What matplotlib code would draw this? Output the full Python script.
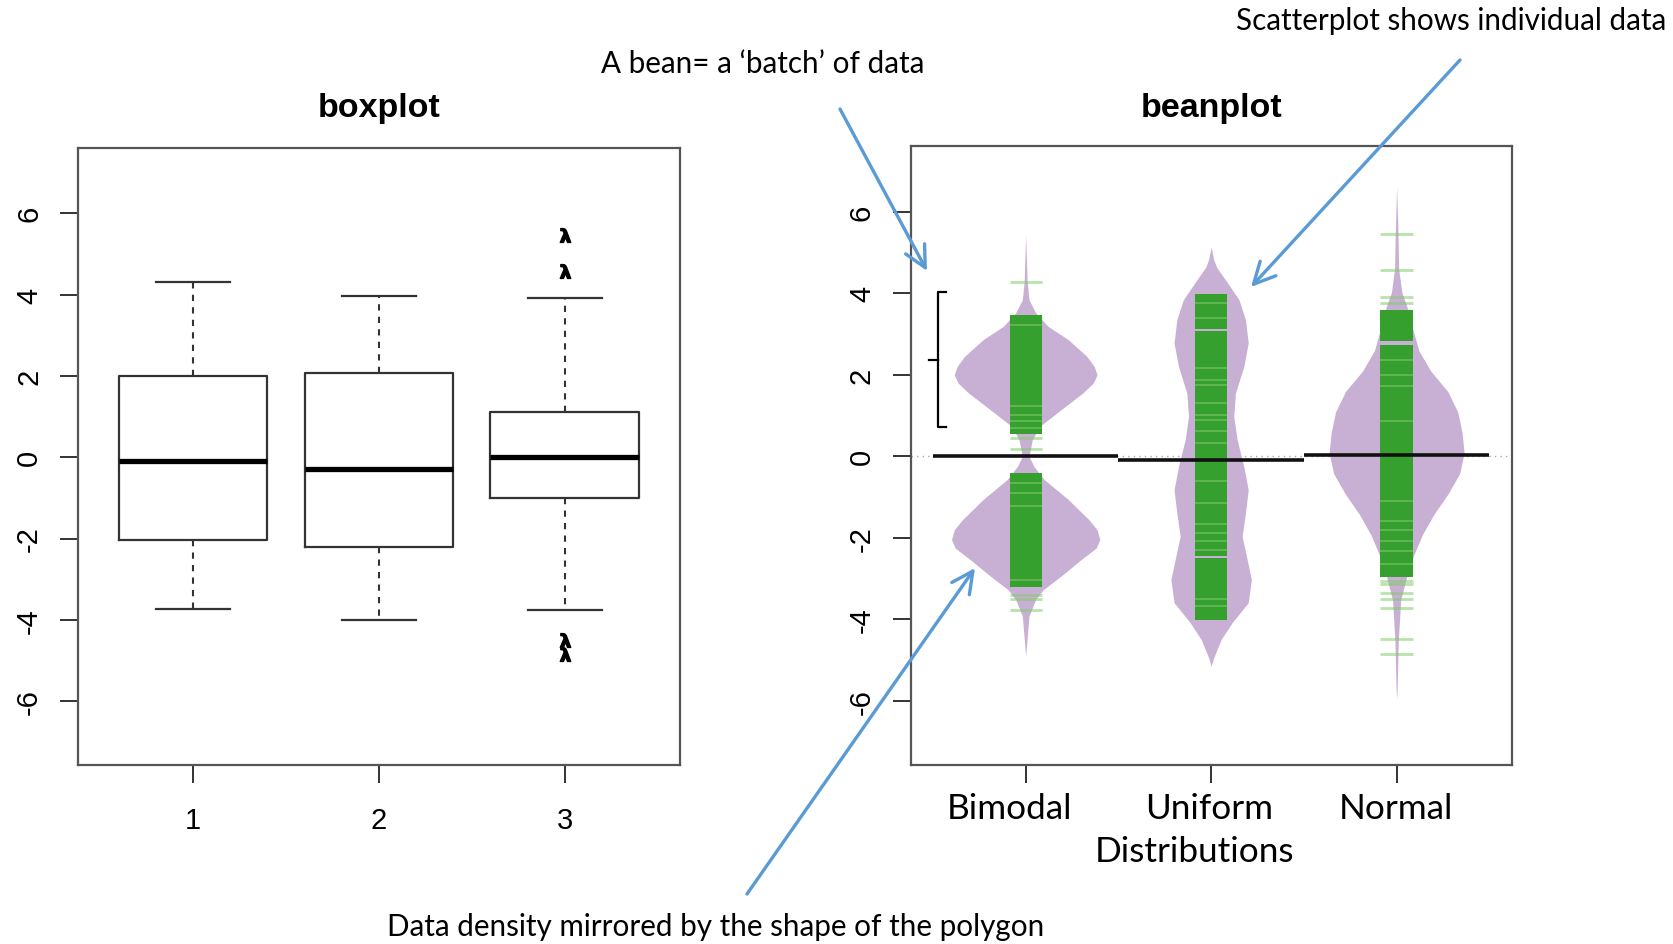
import matplotlib.pyplot as plt

plt.rcParams['font.family'] = ['Liberation Sans', 'DejaVu Sans']

W, H = 1674, 945

# boxplot panel
groups = [1, 2, 3]
box_med = [-0.1, -0.28, 0.0]
box_q1 = [-2.03, -2.2, -0.99]
box_q3 = [2.0, 2.07, 1.11]
box_lo = [-3.73, -4.0, -3.76]
box_hi = [4.3, 3.96, 3.91]
box_fliers = [[], [], [5.46, 4.58, -4.49, -4.84]]

# beanplot panel
bean_names = ["Bimodal", "Uniform", "Normal"]
bean_means = [0.0, -0.1, 0.04]

bimodal_y = [5.43, 4.29, 3.84, 3.52, 3.19, 2.86, 2.45, 2.2, 2.0, 1.8, 1.56, 1.14, 0.74, 0.41, 0.0,
             -0.25, -0.57, -1.06, -1.55, -1.8, -2.04, -2.25, -2.53, -2.94, -3.27, -3.51, -3.92, -4.9]
bimodal_w = [0, 0.008, 0.018, 0.054, 0.12, 0.23, 0.33, 0.37, 0.385, 0.365, 0.31, 0.19, 0.077, 0.036, 0.018,
             0.045, 0.10, 0.23, 0.34, 0.385, 0.40, 0.38, 0.30, 0.19, 0.095, 0.054, 0.018, 0]
uniform_y = [5.13, 4.82, 4.63, 4.33, 3.84, 3.35, 2.78, 2.2, 1.55, 0.98, 0.41, -0.25, -0.82, -1.39,
             -1.96, -2.53, -3.02, -3.59, -4.08, -4.49, -4.96, -5.15]
uniform_w = [0, 0.014, 0.03, 0.077, 0.15, 0.185, 0.20, 0.176, 0.131, 0.122, 0.14, 0.176, 0.20, 0.185,
             0.167, 0.194, 0.217, 0.20, 0.113, 0.054, 0.012, 0]
normal_y = [6.61, 5.52, 4.6, 4.02, 3.68, 3.18, 2.59, 2.09, 1.59, 1.08, 0.58, 0.08, -0.42, -0.93,
            -1.43, -1.93, -2.43, -2.94, -3.52, -4.53, -5.69, -5.95]
normal_w = [0, 0.007, 0.011, 0.028, 0.055, 0.083, 0.12, 0.184, 0.276, 0.33, 0.353, 0.364, 0.34, 0.276,
            0.20, 0.138, 0.092, 0.055, 0.022, 0.009, 0.003, 0]

# dense runs of data lines, lighter gaps inside them, and lone data lines
bimodal_dense = [(0.55, 3.47), (-3.2, -0.4)]
bimodal_gaps = [3.23, 1.23, 1.02, 0.86, 0.7, -0.65, -0.9, -1.22, -3.03]
bimodal_single = [4.27, 0.45, 0.18, -3.39, -3.5, -3.76]
uniform_dense = [(-4.01, -2.5), (-2.44, 3.07), (3.13, 3.99)]
uniform_gaps = [3.76, 3.39, 2.17, 1.88, 1.76, 1.31, 1.02, 0.9, 0.61, 0.33,
                -0.61, -1.14, -1.67, -1.88, -2.08, -2.29, -3.51, -3.67]
uniform_single = []
normal_dense = [(-2.95, 2.74), (2.82, 3.6)]
normal_gaps = [2.37, 2.0, 1.72, 0.86, -1.1, -1.59, -1.8, -2.08, -2.33, -2.65]
normal_single = [5.46, 4.58, 3.91, 3.75, -3.05, -3.14, -3.35, -3.51, -3.72, -4.49, -4.84]

bean_y = [bimodal_y, uniform_y, normal_y]
bean_w = [bimodal_w, uniform_w, normal_w]
dense = [bimodal_dense, uniform_dense, normal_dense]
gaps = [bimodal_gaps, uniform_gaps, normal_gaps]
singles = [bimodal_single, uniform_single, normal_single]

yticks = [-6, -4, -2, 0, 2, 4, 6]

purple = '#C8B0D5'
green = '#36A02F'
blue = '#5B9BD5'


def fx(x):
    return x / W


def fy(y):
    return 1 - y / H


def style_axes(ax):
    ax.set_xlim(0.38, 3.62)
    ax.set_ylim(-7.58, 7.6)
    ax.set_yticks(yticks)
    ax.set_yticklabels([str(t) for t in yticks])
    ax.set_xticks(groups)
    for s in ax.spines.values():
        s.set_color('#555555')
        s.set_linewidth(1.6)
    ax.tick_params(axis='both', length=13, width=1.4, color='#333333', labelsize=21)
    ax.tick_params(axis='y', labelrotation=90, pad=12)
    ax.tick_params(axis='x', pad=16)
    for lab in ax.get_yticklabels():
        lab.set_va('center')


fig = plt.figure(figsize=(W / 100, H / 100), dpi=100)
ax1 = fig.add_axes([0.0465, 0.189, 0.3597, 0.653])
ax2 = fig.add_axes([0.544, 0.189, 0.359, 0.655])

# ---- boxplot
stats = []
for i in range(3):
    stats.append(dict(med=box_med[i], q1=box_q1[i], q3=box_q3[i],
                      whislo=box_lo[i], whishi=box_hi[i], fliers=box_fliers[i]))
ax1.bxp(stats, positions=groups, widths=0.8, capwidths=0.4, showfliers=True,
        boxprops=dict(color='#333333', linewidth=1.6),
        medianprops=dict(color='black', linewidth=3.8),
        whiskerprops=dict(color='#333333', linewidth=1.5, linestyle=(0, (3, 3))),
        capprops=dict(color='#333333', linewidth=1.6),
        flierprops=dict(marker=r'$\mathbf{\lambda}$', markersize=10, markeredgecolor='black',
                        markerfacecolor='black', linestyle='none'))
style_axes(ax1)
ax1.set_xticklabels([str(g) for g in groups])
ax1.set_title("boxplot", fontsize=24.5, fontweight='bold', pad=23)

# ---- beanplot
strip_w = 0.087
ax2.axhline(0, color='#aaaaaa', linestyle=(0, (1, 3)), linewidth=1, zorder=1)
for i, pos in enumerate(groups):
    ys, ws = bean_y[i], bean_w[i]
    ax2.fill_betweenx(ys, [pos - w for w in ws], [pos + w for w in ws],
                      color=purple, linewidth=0, zorder=2)
    for lo, hi in dense[i]:
        ax2.bar(pos, hi - lo, bottom=lo, width=2 * strip_w, color=green, linewidth=0, zorder=3)
    if gaps[i]:
        ax2.hlines(gaps[i], pos - strip_w, pos + strip_w, color='#8fcc7c', linewidth=1.1,
                   alpha=0.6, zorder=4)
    if singles[i]:
        ax2.hlines(singles[i], pos - strip_w, pos + strip_w, color='#7fcc66', linewidth=2,
                   alpha=0.55, zorder=4)
    ax2.hlines(bean_means[i], pos - 0.5, pos + 0.5, color='#111111', linewidth=2.6, zorder=5)
style_axes(ax2)
ax2.set_xticklabels([])
ax2.set_title("beanplot", fontsize=24.5, fontweight='bold', pad=22)

# bracket marking one bean
bracket_x = [0.57, 0.528, 0.528, 0.57]
bracket_y = [4.02, 4.02, 0.73, 0.73]
ax2.plot(bracket_x, bracket_y, color='black', linewidth=1.6, zorder=6)
ax2.plot([0.528, 0.48], [2.37, 2.37], color='black', linewidth=1.6, zorder=6)

# category labels and notes
note_font = ['Lato', 'DejaVu Sans']
for name, x in zip(bean_names, [1010, 1209.6, 1396.4]):
    fig.text(fx(x), fy(809), name, fontsize=25.3, family=note_font, ha='center', va='center')
fig.text(fx(1194.6), fy(852), "Distributions", fontsize=25.3, family=note_font,
         ha='center', va='center')

fig.text(fx(763), fy(64), "A bean= a \u2018batch\u2019 of data", fontsize=21.3,
         family=note_font, ha='center', va='center')
fig.text(fx(1451), fy(21), "Scatterplot shows individual data", fontsize=21.3,
         family=note_font, ha='center', va='center')
fig.text(fx(716), fy(927), "Data density mirrored by the shape of the polygon", fontsize=21.3,
         family=note_font, ha='center', va='center')

arrows = [((840, 110), (927, 272)), ((1460, 61), (1251, 288)), ((747, 895), (975, 569))]
for (x0, y0), (x1, y1) in arrows:
    ax2.annotate('', xy=(fx(x1), fy(y1)), xytext=(fx(x0), fy(y0)), xycoords='figure fraction',
                 textcoords='figure fraction',
                 arrowprops=dict(arrowstyle='->,head_length=0.7,head_width=0.35', color=blue,
                                 lw=2.4, mutation_scale=22, shrinkA=0, shrinkB=0))

fig.savefig('out.png', dpi=100)
